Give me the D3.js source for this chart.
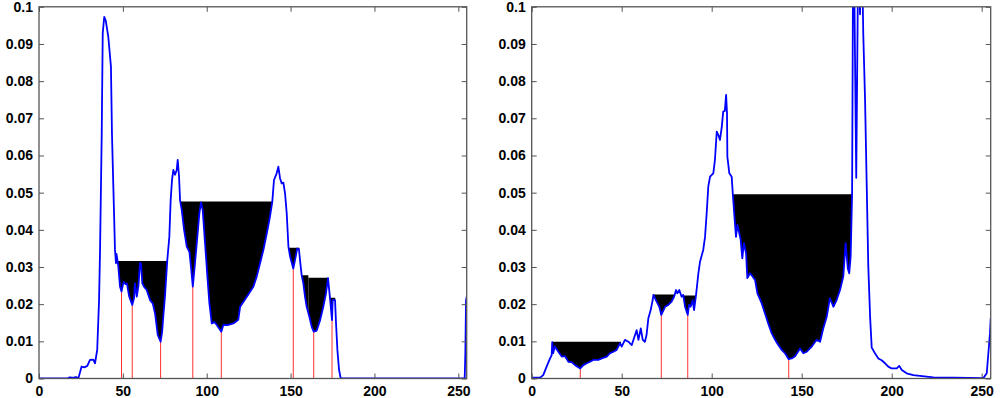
<!DOCTYPE html>
<html>
<head>
<meta charset="utf-8">
<script src="https://cdn.jsdelivr.net/npm/d3@7"></script>
<style>
  body { margin: 0; background: #fff; }
  svg { display: block; }
  .tick text { font-family: "Liberation Sans", Arial, sans-serif; font-weight: bold; font-size: 14px; fill: #000; }
</style>
</head>
<body>
<svg id="chart" width="1000" height="398"></svg>
<script>
// tick values shared by both panels
const xTicks = [0, 50, 100, 150, 200, 250];
const yTicks = [0, 0.01, 0.02, 0.03, 0.04, 0.05, 0.06, 0.07, 0.08, 0.09, 0.1];

// left histogram (bin, value)
const leftBins = [0, 17, 18, 20, 22, 23.5, 25.4, 27, 28.8, 30.4, 32.4, 33.4, 34.7, 35.8, 36.4, 37.4, 38, 38.9, 39.8, 41.3,
  42.9, 43.5, 44.3, 44.8, 45.3, 45.9, 46.2, 46.8, 47.3, 48.3, 49.2, 50.4, 51.6, 52.4, 53.8, 55.6, 56.7, 57.2, 58.3, 59.3,
  60.2, 60.8, 61.6, 62.6, 64.2, 66.2, 67.8, 69.2, 70.2, 70.8, 72.5, 73.4, 74.1, 75.1, 76.5, 77.7, 78.5, 79.3, 80.1, 81.1,
  82.1, 82.7, 83.5, 84.1, 85.1, 86.5, 88.1, 89.7, 90.6, 91.7, 93, 94.4, 95.6, 96.6, 97.6, 99, 100.4, 101.6, 103, 104.6,
  106, 108.7, 109.9, 112.8, 115.9, 118.8, 119.9, 123.9, 127.8, 129.8, 131.8, 133.8, 135.8, 137.7, 139.1, 140.1, 141.7, 142.7, 143.7, 144.7,
  145.7, 146.7, 147.7, 148.7, 149.7, 151.6, 152.7, 154, 155, 155.6, 156.6, 157.6, 158.6, 159.6, 161.2, 162.6, 163.8, 165.6, 167.6, 169.5,
  171.1, 172.3, 173.5, 174.7, 175.1, 176.5, 177.1, 177.9, 178.9, 179.9, 253.8, 254.2, 254.6, 255];
const leftHist = [0, 0, 0.0003, 0.0002, 0.0004, 0.0001, 0.0032, 0.003, 0.0034, 0.005, 0.0051, 0.0041, 0.0077, 0.021, 0.0346, 0.066, 0.0929, 0.0973, 0.0963, 0.092,
  0.0839, 0.066, 0.052, 0.0435, 0.0346, 0.031, 0.0335, 0.0318, 0.0301, 0.0247, 0.0234, 0.026, 0.0254, 0.0256, 0.022, 0.0198, 0.0217, 0.0256, 0.022, 0.025,
  0.031, 0.031, 0.0256, 0.0247, 0.0238, 0.0211, 0.0202, 0.0175, 0.0139, 0.0117, 0.0099, 0.0125, 0.0166, 0.022, 0.0319, 0.0381, 0.048, 0.0534, 0.0561, 0.0548,
  0.0561, 0.0588, 0.0543, 0.048, 0.0453, 0.04, 0.0355, 0.034, 0.0301, 0.0247, 0.031, 0.0381, 0.0444, 0.0474, 0.0453, 0.0364, 0.0274, 0.0202, 0.0148, 0.0152,
  0.0144, 0.0126, 0.0144, 0.0144, 0.0148, 0.0158, 0.0193, 0.022, 0.0247, 0.0274, 0.031, 0.0346, 0.039, 0.0435, 0.0476, 0.0534, 0.0552, 0.057, 0.0539, 0.0525,
  0.0527, 0.0498, 0.0444, 0.0355, 0.0328, 0.0296, 0.032, 0.035, 0.0347, 0.0319, 0.0278, 0.0256, 0.022, 0.0193, 0.0166, 0.0139, 0.0126, 0.0129, 0.0157, 0.0193,
  0.0229, 0.027, 0.0216, 0.0157, 0.0211, 0.0211, 0.0148, 0.0077, 0.0023, 0, 0, 0.007, 0.021, 0.022];
// flooded basins: start bin, end bin, water level
const leftPoolStart = [45.6, 84.0, 148.6, 156.4, 160.6, 173.3];
const leftPoolEnd = [77.2, 139.2, 155.3, 160.6, 172.6, 176.6];
const leftPoolLevel = [0.0316, 0.0476, 0.0352, 0.0278, 0.0271, 0.0217];
const leftMinima = [49.2, 55.6, 72.5, 91.7, 108.7, 151.6, 163.8, 174.7];

// right histogram
const rightBins = [0, 4.6, 6.4, 8.3, 10.2, 11.1, 11.4, 11.9, 12.9, 14.8, 16.7, 18.5, 20.4, 22.2, 24.1, 27, 28.7, 30.6, 32.4, 34.2,
  37, 38.9, 41.7, 43.5, 45.4, 47.2, 49.1, 50, 51.8, 53.7, 55.6, 57.4, 58.3, 59.3, 60.6, 61.7, 62.9, 63.8, 64.8, 66.1,
  67.2, 67.6, 69.4, 70.9, 72, 74.1, 75.9, 77.7, 79.1, 80.2, 80.9, 82, 83.3, 84.2, 85.2, 86.7, 87.4, 88.3, 89.4, 90.2,
  91.3, 92.6, 93.5, 95.3, 96.3, 97.2, 98.1, 99.1, 100.9, 101.8, 102.8, 103.7, 104.6, 105.6, 106.4, 107.3, 108, 108.5, 108.7, 109.8,
  111.1, 111.7, 112.9, 113.5, 114.3, 115.3, 116.1, 117, 117.9, 119.1, 119.8, 121.3, 122.8, 124.1, 125.4, 127.8, 129.6, 131.4, 133.3, 135.2,
  137, 138.9, 140.7, 142.8, 144.8, 146.3, 149.1, 150.9, 152.8, 155.6, 158.3, 160.2, 162, 163.9, 165.7, 167.6, 169.4, 171.3, 173.1, 174.4,
  175.6, 176.4, 177.2, 178, 178.7, 180.3, 181.5, 182.4, 183.3, 184.2, 185.2, 186.1, 187, 188, 188.9, 190.7, 192.6, 194.4, 196.3, 198.1,
  200, 202.8, 204.2, 205.6, 208.3, 212, 215.7, 223.1, 234.2, 250.9, 252.8, 253.7, 254.6, 255];
const rightHist = [0.0002, 0.0002, 0.0009, 0.0032, 0.0054, 0.0063, 0.0098, 0.0068, 0.0086, 0.0072, 0.0059, 0.006, 0.0045, 0.0044, 0.0036, 0.0027, 0.0036, 0.0041, 0.0045, 0.005,
  0.005, 0.0054, 0.0059, 0.0068, 0.0072, 0.0077, 0.0095, 0.0086, 0.0104, 0.0099, 0.009, 0.0117, 0.013, 0.0104, 0.0135, 0.0104, 0.0099, 0.0117, 0.0162, 0.0184,
  0.0211, 0.0225, 0.0207, 0.0193, 0.0171, 0.0193, 0.0198, 0.0207, 0.022, 0.0238, 0.0229, 0.0238, 0.022, 0.0225, 0.0193, 0.0171, 0.0198, 0.0193, 0.0211, 0.0184,
  0.0225, 0.0283, 0.0314, 0.0346, 0.0381, 0.0444, 0.0516, 0.0543, 0.0552, 0.0588, 0.0664, 0.0655, 0.0642, 0.0677, 0.0718, 0.072, 0.0763, 0.0715, 0.0597, 0.0552,
  0.0543, 0.0498, 0.0418, 0.0381, 0.0413, 0.0391, 0.0373, 0.0323, 0.0364, 0.0337, 0.027, 0.0283, 0.0274, 0.0265, 0.0229, 0.0202, 0.0175, 0.0148, 0.0122, 0.0104,
  0.009, 0.0077, 0.0068, 0.0052, 0.0055, 0.006, 0.0081, 0.0068, 0.0072, 0.0086, 0.0104, 0.0099, 0.0135, 0.0166, 0.0216, 0.0193, 0.0211, 0.0238, 0.0274, 0.0364,
  0.0296, 0.0283, 0.0328, 0.0498, 0.13, 0.054, 0.12, 0.098, 0.12, 0.0929, 0.0749, 0.0525, 0.0301, 0.0166, 0.0083, 0.0068, 0.0054, 0.0049, 0.0041, 0.0032,
  0.0027, 0.0027, 0.0034, 0.0023, 0.0014, 0.0009, 0.0007, 0.0003, 0.0002, 0.0001, 0.0014, 0.0068, 0.0122, 0.0162];
const rightPoolStart = [11.3, 67.4, 84.4, 111.5];
const rightPoolEnd = [49.6, 79.4, 90.9, 178.0];
const rightPoolLevel = [0.0099, 0.0226, 0.0223, 0.0496];
const rightMinima = [27, 72, 86.7, 142.8];

const svg = d3.select("#chart");
const plotTop = 6.8, plotBottom = 378.5;

function histValue(bins, hist, b) {
  // look up the curve at a bin
  const i = d3.bisectLeft(bins, b);
  if (bins[i] === b) return hist[i];
  const t = (b - bins[i - 1]) / (bins[i] - bins[i - 1]);
  return hist[i - 1] + t * (hist[i] - hist[i - 1]);
}

function drawPanel(id, left, right, bins, hist, poolStart, poolEnd, poolLevel, minima) {
  const x = d3.scaleLinear().domain([0, 255]).range([left, right]);
  const y = d3.scaleLinear().domain([0, 0.1]).range([plotBottom, plotTop]);
  const data = bins.map((b, i) => [b, hist[i]]);

  const g = svg.append("g");

  g.append("clipPath").attr("id", id + "-clip")
    .append("rect")
    .attr("x", left).attr("y", plotTop)
    .attr("width", right - left).attr("height", plotBottom - plotTop);

  // black basins
  poolLevel.forEach((lvl, k) => {
    const cid = id + "-pool" + k;
    g.append("clipPath").attr("id", cid)
      .append("rect")
      .attr("x", x(poolStart[k])).attr("y", plotTop)
      .attr("width", x(poolEnd[k]) - x(poolStart[k])).attr("height", plotBottom - plotTop);
    const area = d3.area()
      .x(d => x(d[0]))
      .y0(y(lvl))
      .y1(d => y(Math.min(d[1], lvl)));
    g.append("path")
      .datum(data)
      .attr("clip-path", "url(#" + cid + ")")
      .attr("fill", "#000")
      .attr("d", area);
  });

  // red lines at the basin minima
  g.selectAll(".minline")
    .data(minima)
    .enter()
    .append("line")
    .attr("class", "minline")
    .attr("x1", d => x(d)).attr("x2", d => x(d))
    .attr("y1", plotBottom)
    .attr("y2", d => y(histValue(bins, hist, d)))
    .attr("stroke", "#ff3030")
    .attr("stroke-width", 1);

  // histogram curve
  const line = d3.line().x(d => x(d[0])).y(d => y(d[1]));
  g.append("path")
    .datum(data)
    .attr("clip-path", "url(#" + id + "-clip)")
    .attr("fill", "none")
    .attr("stroke", "#0000ff")
    .attr("stroke-width", 1.8)
    .attr("stroke-linejoin", "round")
    .attr("d", line);

  // axes, ticks pointing inward
  const axisColor = "#555";
  const xb = g.append("g").attr("transform", "translate(0," + plotBottom + ")")
    .call(d3.axisBottom(x).tickValues(xTicks).tickSizeInner(-5).tickSizeOuter(0).tickPadding(8));
  const xt = g.append("g").attr("transform", "translate(0," + plotTop + ")")
    .call(d3.axisTop(x).tickValues(xTicks).tickSizeInner(-5).tickSizeOuter(0).tickFormat(""));
  const yl = g.append("g").attr("transform", "translate(" + left + ",0)")
    .call(d3.axisLeft(y).tickValues(yTicks).tickSizeInner(-5).tickSizeOuter(0).tickPadding(6).tickFormat(d => String(d)));
  const yr = g.append("g").attr("transform", "translate(" + right + ",0)")
    .call(d3.axisRight(y).tickValues(yTicks).tickSizeInner(-5).tickSizeOuter(0).tickFormat(""));
  [xb, xt, yl, yr].forEach(a => {
    a.select(".domain").remove();
    a.selectAll(".tick line").attr("stroke", axisColor);
  });

  g.append("rect")
    .attr("x", left).attr("y", plotTop)
    .attr("width", right - left).attr("height", plotBottom - plotTop)
    .attr("fill", "none")
    .attr("stroke", axisColor)
    .attr("stroke-width", 1.3);
}

drawPanel("left", 39, 466.7, leftBins, leftHist, leftPoolStart, leftPoolEnd, leftPoolLevel, leftMinima);
drawPanel("right", 531.7, 990.7, rightBins, rightHist, rightPoolStart, rightPoolEnd, rightPoolLevel, rightMinima);
</script>
</body>
</html>
